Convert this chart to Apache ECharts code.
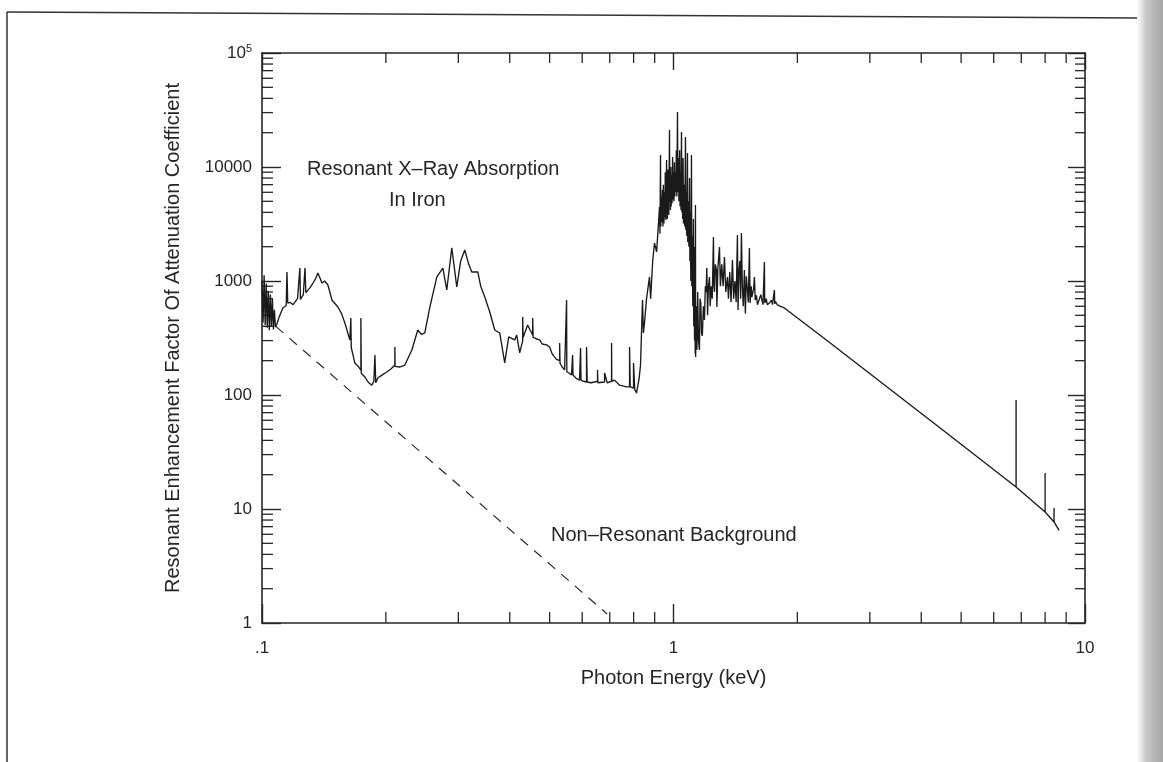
<!DOCTYPE html>
<html><head><meta charset="utf-8">
<script src="https://cdn.jsdelivr.net/npm/echarts@6/dist/echarts.min.js"></script>
<style>html,body{margin:0;padding:0;background:#fff}#c{width:1163px;height:762px}</style>
</head><body><div id="c"></div>
<script>
// Resonant X-ray absorption in iron: [photon energy (keV), enhancement factor]
const spectrumPoints = [
[0.1000,1000],[0.1006,430],[0.1012,1120],[0.1018,410],[0.1024,950],[0.1030,390],[0.1036,820],[0.1042,370],
[0.1048,760],[0.1054,400],[0.1060,700],[0.1066,375],[0.1072,560],[0.1078,395],[0.1087,420],[0.1100,480],
[0.1124,580],[0.1145,610],[0.1150,1200],[0.1155,640],[0.1170,650],[0.1190,620],[0.1203,616],[0.1220,700],
[0.1236,1300],[0.1240,690],[0.1260,760],[0.1272,1300],[0.1278,790],[0.1286,760],[0.1310,880],[0.1330,960],
[0.1350,1050],[0.1367,1175],[0.1385,1050],[0.1398,960],[0.1420,1000],[0.1446,923],[0.1479,681],[0.1529,591],
[0.1560,520],[0.1590,428],[0.1635,304],[0.1644,304],[0.1644,474],[0.1648,260],[0.1681,191],[0.1710,180],
[0.1739,165],[0.1739,474],[0.1743,155],[0.1778,144],[0.1810,130],[0.1849,122],[0.1870,132],[0.1881,135],
[0.1881,224],[0.1890,128],[0.1912,141],[0.1960,150],[0.2011,159],[0.2060,170],[0.2103,183],[0.2103,264],
[0.2106,178],[0.2160,176],[0.2224,183],[0.2313,248],[0.2391,372],[0.2440,340],[0.2487,350],[0.2558,591],
[0.2660,1085],[0.2751,1300],[0.2812,834],[0.2892,1950],[0.2974,886],[0.3040,1500],[0.3110,1870],[0.3180,1400],
[0.3234,1200],[0.3345,1200],[0.3400,900],[0.3478,724],[0.3577,535],[0.3678,372],[0.3782,350],[0.3889,191],
[0.3977,323],[0.4113,304],[0.4159,336],[0.4229,234],[0.4300,300],[0.4300,483],[0.4310,320],[0.4421,411],
[0.4547,336],[0.4547,474],[0.4560,320],[0.4650,310],[0.4728,304],[0.4800,280],[0.4917,275],[0.5000,264],
[0.5070,230],[0.5142,215],[0.5200,205],[0.5288,200],[0.5288,286],[0.5300,190],[0.5370,175],[0.5437,166],
[0.5498,170],[0.5498,681],[0.5505,160],[0.5580,155],[0.5653,150],[0.5685,150],[0.5685,224],[0.5700,150],
[0.5800,140],[0.5911,135],[0.5945,135],[0.5945,258],[0.5960,135],[0.6050,132],[0.6147,130],[0.6147,264],
[0.6170,130],[0.6300,128],[0.6429,130],[0.6537,132],[0.6537,166],[0.6550,128],[0.6800,130],[0.6800,156],
[0.6900,128],[0.7071,132],[0.7071,286],[0.7080,132],[0.7191,135],[0.7394,122],[0.7690,118],[0.7820,118],
[0.7820,264],[0.7850,118],[0.7996,115],[0.7996,191],[0.8050,112],[0.8131,104],[0.8250,140],[0.8315,183],
[0.8408,681],[0.8450,350],[0.8502,428],[0.8600,700],[0.8743,1085],[0.8800,700],[0.8900,1500],[0.8992,2150],
[0.9100,1800],[0.9247,4460],[0.9270,2600],[0.9299,12740],[0.9315,3000],[0.9330,5500],[0.9360,3300],[0.9400,6290],
[0.9425,3000],[0.9450,7000],[0.9480,3200],[0.9510,6000],[0.9530,3600],[0.9550,9000],[0.9580,3430],[0.9620,11520],
[0.9640,4200],[0.9650,7000],[0.9660,3500],[0.9670,8000],[0.9690,4000],[0.9700,9500],[0.9740,3800],[0.9779,21100],
[0.9795,5000],[0.9810,9000],[0.9830,4200],[0.9850,10000],[0.9870,4500],[0.9890,8500],[0.9920,4800],[0.9950,12230],
[0.9975,5200],[1.0000,9000],[1.0025,5000],[1.0050,11000],[1.0075,5500],[1.0100,9000],[1.0130,6000],[1.0160,14000],
[1.0190,5500],[1.0226,30350],[1.0250,6000],[1.0280,12000],[1.0310,5000],[1.0350,14000],[1.0375,4500],[1.0400,9000],
[1.0430,4200],[1.0457,20300],[1.0480,4000],[1.0500,8000],[1.0525,3500],[1.0550,12000],[1.0575,3200],[1.0600,7000],
[1.0650,3000],[1.0693,18300],[1.0710,2800],[1.0730,6000],[1.0770,2500],[1.0813,13270],[1.0830,2200],[1.0850,5000],
[1.0900,2000],[1.0940,8000],[1.0960,1500],[1.0980,4000],[1.1020,1000],[1.1058,12740],[1.1080,900],[1.1100,2500],
[1.1140,600],[1.1180,3500],[1.1200,400],[1.1220,1500],[1.1250,300],[1.1270,2000],[1.1290,230],[1.1307,4640],
[1.1320,215],[1.1360,600],[1.1400,250],[1.1450,800],[1.1500,300],[1.1563,248],[1.1600,700],[1.1650,641],
[1.1700,350],[1.1750,330],[1.1820,600],[1.1890,455],[1.1950,900],[1.2000,800],[1.2050,1300],[1.2100,500],
[1.2160,900],[1.2229,1085],[1.2280,600],[1.2350,900],[1.2420,700],[1.2505,2430],[1.2540,900],[1.2580,800],
[1.2640,1400],[1.2717,1250],[1.2750,591],[1.2820,1300],[1.2933,1990],[1.3000,900],[1.3100,1400],[1.3200,900],
[1.3299,1625],[1.3400,800],[1.3525,1085],[1.3600,700],[1.3700,1200],[1.3800,650],[1.3907,1530],[1.4000,700],
[1.4100,1000],[1.4200,650],[1.4300,2530],[1.4350,557],[1.4420,1200],[1.4500,1500],[1.4560,700],[1.4622,2640],
[1.4700,900],[1.4780,600],[1.4870,1250],[1.4950,520],[1.5030,1100],[1.5100,900],[1.5200,650],[1.5292,1950],
[1.5350,641],[1.5450,900],[1.5500,724],[1.5600,700],[1.5650,850],[1.5726,1085],[1.5800,680],[1.5900,750],
[1.6000,620],[1.6171,641],[1.6300,760],[1.6400,680],[1.6500,620],[1.6631,1470],[1.6660,641],[1.6800,700],
[1.6900,620],[1.7100,641],[1.7300,680],[1.7400,620],[1.7584,834],[1.7620,630],[1.7700,660],[1.7882,616],
[1.8200,600],[1.8596,580],[2.3520,304],[4.6770,44.6],[6.8000,15.6],[6.8000,90.4],[6.8000,15.6],
[8.0000,9.4],[8.0000,20.7],[8.0000,9.4],[8.4100,7.7],[8.4100,10.2],[8.4100,7.7],[8.6500,6.5]
];
// Non-resonant background (dashed)
const backgroundPoints = [[0.108, 400], [0.69, 1.2]];

// Axis tick values and labels
const xTickLabels = ['.1', '1', '10'];                 // 10^-1, 10^0, 10^1
const yTickLabels = ['1', '10', '100', '1000', '10000', '10{sup|5}'];
const xMinorTicks = [0.2,0.3,0.4,0.5,0.6,0.7,0.8,0.9,2,3,4,5,6,7,8,9];
const yMinorTicks = [2,3,4,5,6,7,8,9,20,30,40,50,60,70,80,90,200,300,400,500,600,700,800,900,
  2000,3000,4000,5000,6000,7000,8000,9000,20000,30000,40000,50000,60000,70000,80000,90000];

const minorData = xMinorTicks.map(v => [v, 1, 0]).concat(yMinorTicks.map(v => [0.1, v, 1]));

const INK = '#262626';
const FONT = '"Liberation Sans", Arial, Helvetica, sans-serif';

function logAxis(extra) {
  return Object.assign({
    type: 'log', logBase: 10,
    splitLine: { show: false },
    minorTick: { show: false },
    axisLine: { show: true, onZero: false, lineStyle: { color: INK, width: 1.6 } },
    axisTick: { show: true, inside: true, length: 19, lineStyle: { color: INK, width: 1.4 } },
    axisLabel: { show: false }
  }, extra);
}

const chart = echarts.init(document.getElementById('c'), null, { renderer: 'canvas' });
chart.setOption({
  animation: false,
  backgroundColor: '#fff',
  grid: { left: 262, right: 78, top: 53, bottom: 139, containLabel: false },
  xAxis: [
    logAxis({
      min: 0.1, max: 10, position: 'bottom',
      axisLabel: {
        show: true, margin: 17, color: INK, fontSize: 17, fontFamily: FONT,
        formatter: v => xTickLabels[Math.round(Math.log10(v)) + 1]
      },
      name: 'Photon Energy (keV)', nameLocation: 'middle', nameGap: 45,
      nameTextStyle: { color: INK, fontSize: 20, fontFamily: FONT }
    }),
    logAxis({ min: 0.1, max: 10, position: 'top', axisTick: { show: true, inside: true, length: 17, lineStyle: { color: INK, width: 1.4 } } })
  ],
  yAxis: [
    logAxis({
      min: 1, max: 100000, position: 'left',
      axisLabel: {
        show: true, margin: 10, color: INK, fontSize: 17, fontFamily: FONT,
        formatter: v => yTickLabels[Math.round(Math.log10(v))],
        rich: { sup: { fontSize: 11, verticalAlign: 'top', color: INK, fontFamily: FONT, padding: [0, 0, 8, 0] } }
      },
      name: 'Resonant Enhancement Factor Of Attenuation Coefficient', nameLocation: 'middle', nameGap: 79,
      nameTextStyle: { color: INK, fontSize: 20, fontFamily: FONT }
    }),
    logAxis({ min: 1, max: 100000, position: 'right', axisTick: { show: true, inside: true, length: 17, lineStyle: { color: INK, width: 1.4 } } })
  ],
  series: [
    {
      type: 'line', xAxisIndex: 0, yAxisIndex: 0, data: spectrumPoints,
      showSymbol: false, symbol: 'none', smooth: false,
      lineStyle: { color: '#1a1a1a', width: 1.35 }
    },
    {
      type: 'line', xAxisIndex: 0, yAxisIndex: 0, data: backgroundPoints,
      showSymbol: false, symbol: 'none',
      lineStyle: { color: '#2a2a2a', width: 1.2, type: [10, 8] }
    },
    {
      type: 'custom', xAxisIndex: 0, yAxisIndex: 0, data: minorData, clip: false, silent: true,
      renderItem: function (params, api) {
        const cs = params.coordSys;
        const left = cs.x, right = cs.x + cs.width, top = cs.y, bottom = cs.y + cs.height;
        const style = { stroke: INK, lineWidth: 1.3 };
        const p = api.coord([api.value(0), api.value(1)]);
        if (api.value(2) === 0) {
          return { type: 'group', children: [
            { type: 'line', shape: { x1: p[0], y1: bottom, x2: p[0], y2: bottom - 11 }, style: style },
            { type: 'line', shape: { x1: p[0], y1: top, x2: p[0], y2: top + 10 }, style: style }
          ] };
        }
        return { type: 'group', children: [
          { type: 'line', shape: { x1: left, y1: p[1], x2: left + 11, y2: p[1] }, style: style },
          { type: 'line', shape: { x1: right, y1: p[1], x2: right - 10, y2: p[1] }, style: style }
        ] };
      }
    }
  ],
  graphic: [
    { type: 'text', left: 307, top: 159, style: { text: 'Resonant X\u2013Ray Absorption', font: '20px ' + FONT, fill: INK } },
    { type: 'text', left: 389, top: 190, style: { text: 'In Iron', font: '20px ' + FONT, fill: INK } },
    { type: 'text', left: 551, top: 525, style: { text: 'Non\u2013Resonant Background', font: '20px ' + FONT, fill: INK } },
    { type: 'line', shape: { x1: 7, y1: 12, x2: 7, y2: 762 }, style: { stroke: '#333', lineWidth: 1.5 } },
    { type: 'line', shape: { x1: 7, y1: 12, x2: 1142, y2: 18 }, style: { stroke: '#333', lineWidth: 1.5 } },
    { type: 'rect', shape: { x: 1137, y: 0, width: 26, height: 762 },
      style: { fill: new echarts.graphic.LinearGradient(0, 0, 1, 0, [
        { offset: 0, color: 'rgba(255,255,255,1)' },
        { offset: 0.35, color: 'rgba(200,200,200,1)' },
        { offset: 1, color: 'rgba(165,165,165,1)' }
      ]) } }
  ]
});
</script></body></html>
